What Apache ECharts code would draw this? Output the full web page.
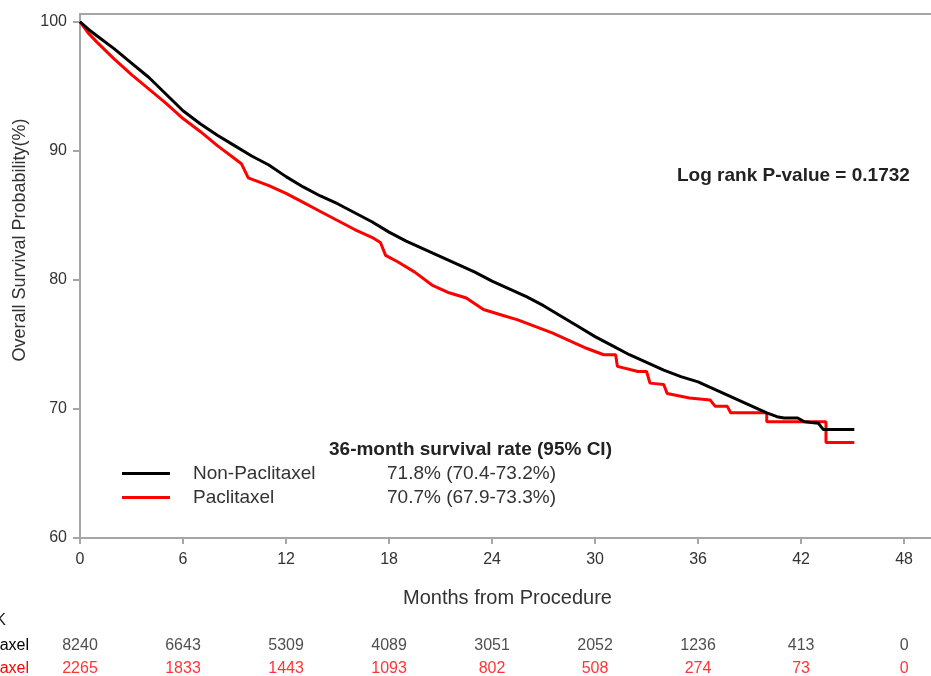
<!DOCTYPE html>
<html>
<head>
<meta charset="utf-8">
<script src="https://cdn.jsdelivr.net/npm/echarts@6/dist/echarts.min.js"></script>
<style>
  html, body { margin: 0; padding: 0; background: #fff; }
  #chart { width: 931px; height: 676px; }
</style>
</head>
<body>
<div id="chart"></div>
<script>
  // survival curves, months vs overall survival (%)
  var nonPacMonths = [0, 0.5, 1, 2, 3, 4, 5, 6, 7, 8, 9, 10, 11, 12, 13, 14, 15, 16, 17, 18, 19, 20,
    21, 22, 23, 24, 25, 26, 27, 28, 29, 30, 31, 32, 33, 34, 35, 36, 37, 38, 39, 40,
    40.6, 41, 41.8, 42.2, 43.0, 43.3, 45.1];
  var nonPacSurv = [100, 99.4, 98.9, 97.9, 96.8, 95.7, 94.4, 93.1, 92.1, 91.2, 90.4, 89.6, 88.9, 88.0,
    87.2, 86.5, 85.9, 85.2, 84.5, 83.7, 83.0, 82.4, 81.8, 81.2, 80.6, 79.9, 79.3, 78.7, 78.0,
    77.2, 76.4, 75.6, 74.9, 74.2, 73.6, 73.0, 72.5, 72.1, 71.5, 70.9, 70.3, 69.7,
    69.4, 69.3, 69.3, 69.0, 68.9, 68.4, 68.4];

  var pacMonths = [0, 0.5, 1, 2, 3, 4, 5, 6, 7, 8, 9, 9.4, 9.8, 11, 12, 13, 14, 15, 16, 17, 17.5, 17.8,
    18.5, 19.5, 20.5, 21.5, 22.5, 23.5, 24.5, 25.5, 26.5, 27.5, 28.5, 29.5, 30.5,
    31.2, 31.3, 32.5, 33.0, 33.2, 34.0, 34.2, 35.5, 36.7, 37.0, 37.7, 37.9, 40.0, 40.0,
    43.45, 43.45, 45.1];
  var pacSurv = [100, 99.1, 98.4, 97.1, 95.9, 94.8, 93.7, 92.5, 91.5, 90.4, 89.4, 89.0, 87.9, 87.3,
    86.7, 86.0, 85.3, 84.6, 83.9, 83.3, 82.9, 81.9, 81.4, 80.6, 79.6, 79.0, 78.6, 77.7,
    77.3, 76.9, 76.4, 75.9, 75.3, 74.7, 74.2,
    74.2, 73.3, 72.9, 72.9, 72.0, 71.9, 71.2, 70.85, 70.7, 70.2, 70.2, 69.7, 69.7, 69.0,
    69.0, 67.4, 67.4];

  var groups = ['Non-Paclitaxel', 'Paclitaxel'];
  var groupColors = ['#000000', '#ff0000'];
  var survival36 = ['71.8% (70.4-73.2%)', '70.7% (67.9-73.3%)'];

  var xTicks = [0, 6, 12, 18, 24, 30, 36, 42, 48];
  var yTicks = [60, 70, 80, 90, 100];

  // number at risk, at each x tick
  var riskNonPac = [8240, 6643, 5309, 4089, 3051, 2052, 1236, 413, 0];
  var riskPac = [2265, 1833, 1443, 1093, 802, 508, 274, 73, 0];

  var pValue = 'Log rank P-value = 0.1732';

  var font = 'Liberation Sans, Arial, sans-serif';
  var axisGray = '#a6a6a6';

  function pairs(xs, ys) {
    return xs.map(function (x, i) { return [x, ys[i]]; });
  }
  function riskRow(vals, row) {
    return vals.map(function (v, i) { return [xTicks[i], row, v]; });
  }

  var chart = echarts.init(document.getElementById('chart'));
  var option = {
    animation: false,
    textStyle: { fontFamily: font },
    grid: [
      { left: 80, right: -4, top: 14, bottom: 138, outerBoundsMode: 'none',
        show: true, borderColor: axisGray, borderWidth: 2 },
      { left: 80, right: -4, top: 634, height: 46, outerBoundsMode: 'none' }
    ],
    xAxis: [{
      gridIndex: 0,
      type: 'value',
      min: 0,
      max: 49.8,
      splitLine: { show: false },
      axisLine: { lineStyle: { color: axisGray, width: 2 } },
      axisTick: { customValues: xTicks, length: 6, lineStyle: { color: axisGray, width: 2 } },
      axisLabel: { customValues: xTicks, fontSize: 16, color: '#333', margin: 14 },
      name: 'Months from Procedure',
      nameLocation: 'middle',
      nameGap: 50,
      nameTextStyle: { fontSize: 20, color: '#333' }
    }, {
      gridIndex: 1,
      type: 'value',
      min: 0,
      max: 49.8,
      show: false
    }],
    yAxis: [{
      gridIndex: 0,
      type: 'value',
      min: 60,
      max: 100.6,
      splitLine: { show: false },
      axisLine: { lineStyle: { color: axisGray, width: 2 } },
      axisTick: { customValues: yTicks, length: 7, lineStyle: { color: axisGray, width: 2 } },
      axisLabel: { customValues: yTicks, fontSize: 16, color: '#333', margin: 13 },
      name: 'Overall Survival Probability(%)',
      nameLocation: 'middle',
      nameGap: 50,
      nameTextStyle: { fontSize: 18, color: '#333', padding: [0, 0, 0, 72] }
    }, {
      gridIndex: 1,
      type: 'category',
      inverse: true,
      data: groups,
      axisLine: { show: false },
      axisTick: { show: false },
      splitLine: { show: false },
      axisLabel: {
        margin: 51,
        fontSize: 16,
        color: function (v) { return groupColors[groups.indexOf(v)]; }
      }
    }],
    legend: {
      orient: 'vertical',
      left: 122,
      top: 464,
      padding: 0,
      icon: 'rect',
      itemWidth: 48,
      itemHeight: 3,
      itemGap: 5,
      data: groups,
      formatter: function (name) {
        return '{n|' + name + '}{v|' + survival36[groups.indexOf(name)] + '}';
      },
      textStyle: {
        rich: {
          n: { fontSize: 19, lineHeight: 20, color: '#333', width: 194, padding: [0, 0, 0, 18] },
          v: { fontSize: 19, lineHeight: 20, color: '#333' }
        }
      }
    },
    graphic: [
      { type: 'text', left: 329, top: 440, style: { text: '36-month survival rate (95% CI)', font: 'bold 19px ' + font, fill: '#222' } },
      { type: 'text', left: 677, top: 166, style: { text: pValue, font: 'bold 19px ' + font, fill: '#222' } },
      { type: 'text', right: 925, top: 613, style: { text: 'No. at RISK', font: '16px ' + font, fill: '#222' } }
    ],
    series: [{
      name: groups[0],
      type: 'line',
      xAxisIndex: 0,
      yAxisIndex: 0,
      showSymbol: false,
      symbol: 'none',
      lineStyle: { color: groupColors[0], width: 3 },
      itemStyle: { color: groupColors[0] },
      z: 3,
      data: pairs(nonPacMonths, nonPacSurv)
    }, {
      name: groups[1],
      type: 'line',
      xAxisIndex: 0,
      yAxisIndex: 0,
      showSymbol: false,
      symbol: 'none',
      lineStyle: { color: groupColors[1], width: 3 },
      itemStyle: { color: groupColors[1] },
      z: 2,
      data: pairs(pacMonths, pacSurv)
    }, {
      type: 'scatter',
      xAxisIndex: 1,
      yAxisIndex: 1,
      symbolSize: 0,
      label: { show: true, position: 'inside', fontSize: 16, color: '#222', formatter: function (p) { return p.value[2]; } },
      data: riskRow(riskNonPac, 0)
    }, {
      type: 'scatter',
      xAxisIndex: 1,
      yAxisIndex: 1,
      symbolSize: 0,
      label: { show: true, position: 'inside', fontSize: 16, color: '#ff0000', formatter: function (p) { return p.value[2]; } },
      data: riskRow(riskPac, 1)
    }]
  };
  chart.setOption(option);
</script>
</body>
</html>
